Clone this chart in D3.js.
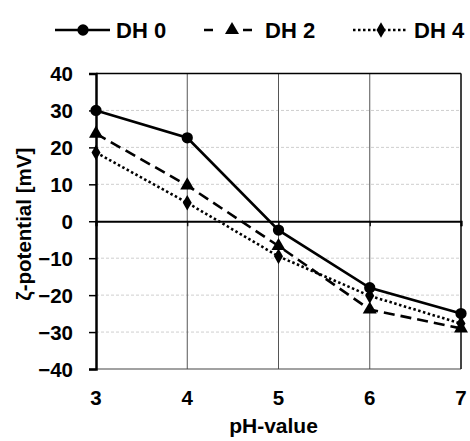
<!DOCTYPE html>
<html>
<head>
<meta charset="utf-8">
<script src="https://cdn.jsdelivr.net/npm/d3@7"></script>
<style>
  body { margin: 0; background: #fff; }
  text { font-family: "Liberation Sans", Arial, sans-serif; font-weight: bold; fill: #000; }
</style>
</head>
<body>
<div id="chart"></div>
<script>
// data
const phValues = [3, 4, 5, 6, 7];
const dh0 = [30, 22.6, -2.4, -18, -25];
const dh2 = [23.7, 9.7, -6.7, -23.9, -29];
const dh4 = [18.6, 5, -9.5, -20.2, -27.7];
const seriesNames = ["DH 0", "DH 2", "DH 4"];
const yTicks = [-40, -30, -20, -10, 0, 10, 20, 30, 40];

const W = 470, H = 441;
const margin = { top: 73.5, right: 9, bottom: 72, left: 96 };
const width = W - margin.left - margin.right,
  height = H - margin.top - margin.bottom;

const svg = d3.select("#chart").append("svg")
  .attr("width", W).attr("height", H);
const g = svg.append("g")
  .attr("transform", `translate(${margin.left},${margin.top})`);

const x = d3.scaleLinear().domain([3, 7]).range([0, width]);
const y = d3.scaleLinear().domain([-40, 40]).range([height, 0]);

// horizontal dashed grid
g.selectAll(".hgrid").data(yTicks.filter(d => d !== 0 && d !== 40 && d !== -40))
  .enter().append("line")
  .attr("x1", 0).attr("x2", width)
  .attr("y1", d => y(d)).attr("y2", d => y(d))
  .attr("stroke", "#cfcfcf").attr("stroke-width", 1)
  .attr("stroke-dasharray", "3,2");

// vertical grid
g.selectAll(".vgrid").data(phValues.slice(1))
  .enter().append("line")
  .attr("x1", d => x(d)).attr("x2", d => x(d))
  .attr("y1", 0).attr("y2", height)
  .attr("stroke", "#555").attr("stroke-width", 1);

// frame top / bottom / right
g.append("line").attr("x1", 0).attr("x2", width).attr("y1", 0).attr("y2", 0)
  .attr("stroke", "#000").attr("stroke-width", 1.5);
g.append("line").attr("x1", 0).attr("x2", width).attr("y1", height).attr("y2", height)
  .attr("stroke", "#444").attr("stroke-width", 1.2);
g.append("line").attr("x1", width).attr("x2", width).attr("y1", 0).attr("y2", height)
  .attr("stroke", "#222").attr("stroke-width", 1.5);

// y axis
const yAxis = g.append("g")
  .call(d3.axisLeft(y).tickValues(yTicks).tickSize(7).tickPadding(16).tickFormat(d3.format("d")));
yAxis.select(".domain").attr("stroke", "#000").attr("stroke-width", 2.5);
yAxis.selectAll(".tick line").attr("stroke", "#000").attr("stroke-width", 1.5);
yAxis.selectAll("text").style("font-size", "20.5px").style("font-family", "Liberation Sans, Arial, sans-serif")
  .style("font-weight", "bold").attr("dy", "0.36em");

// x axis at zero
const xAxis = g.append("g")
  .attr("transform", `translate(0,${y(0)})`)
  .call(d3.axisBottom(x).tickValues(phValues).tickSize(5).tickFormat(""));
xAxis.select(".domain").attr("stroke", "#000").attr("stroke-width", 2.2);
xAxis.selectAll(".tick line").attr("stroke", "#000").attr("stroke-width", 1.2);

// x tick labels below the frame
g.selectAll(".xlab").data(phValues).enter().append("text")
  .attr("x", d => x(d)).attr("y", height + 36)
  .attr("text-anchor", "middle").style("font-size", "20.5px")
  .text(d => d);

// axis titles
g.append("text").attr("x", width / 2 - 5).attr("y", height + 64)
  .attr("text-anchor", "middle").style("font-size", "21px").text("pH-value");
g.append("text")
  .attr("transform", `translate(${-65},${height / 2 + 3}) rotate(-90)`)
  .attr("text-anchor", "middle").style("font-size", "20.5px").text("ζ-potential [mV]");

// series
const series = [
  { name: seriesNames[0], values: dh0, dash: null, marker: "circle" },
  { name: seriesNames[1], values: dh2, dash: "11,6", marker: "triangle" },
  { name: seriesNames[2], values: dh4, dash: "2.5,2.5", marker: "diamond" }
];
const symbolOf = {
  circle: d3.symbol().type(d3.symbolCircle).size(100),
  triangle: d3.symbol().type(d3.symbolTriangle).size(85),
  diamond: d3.symbol().type(d3.symbolDiamond).size(70)
};

const line = d3.line().x((d, i) => x(phValues[i])).y(d => y(d));

series.slice().reverse().forEach(s => {
  g.append("path").datum(s.values)
    .attr("fill", "none").attr("stroke", "#000").attr("stroke-width", 2.6)
    .attr("stroke-dasharray", s.dash)
    .attr("d", line);
  g.selectAll(null).data(s.values).enter().append("path")
    .attr("transform", (d, i) => `translate(${x(phValues[i])},${y(d)})`)
    .attr("d", symbolOf[s.marker]).attr("fill", "#000");
});

// legend
const legendX = [55, 204, 353];
const legend = svg.append("g").attr("transform", "translate(0,30)");
series.forEach((s, i) => {
  const lg = legend.append("g").attr("transform", `translate(${legendX[i]},0)`);
  lg.append("line").attr("x1", 0).attr("x2", 55).attr("y1", 0).attr("y2", 0)
    .attr("stroke", "#000").attr("stroke-width", 2.6).attr("stroke-dasharray", s.dash ? (i === 1 ? "9,15,0,15,9" : s.dash) : null);
  lg.append("path").attr("transform", "translate(28,0)")
    .attr("d", symbolOf[s.marker]).attr("fill", "#000");
  lg.append("text").attr("x", 61).attr("y", 0).attr("dy", "0.36em")
    .style("font-size", "22px").text(s.name);
});
</script>
</body>
</html>
